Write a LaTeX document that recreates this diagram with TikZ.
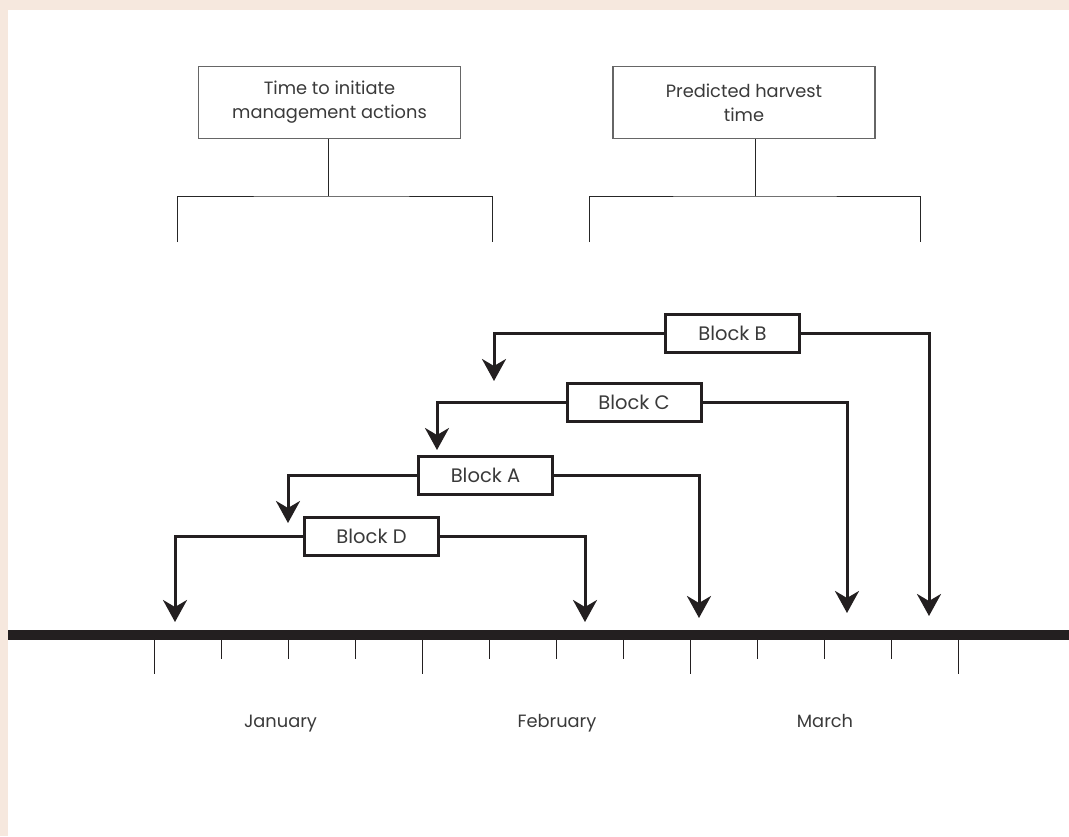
\documentclass[tikz,border=0pt]{standalone}
\usepackage{fontspec}
\setmainfont{Poppins}
\usepackage{tikz}
\usetikzlibrary{arrows.meta}
\usepackage{xcolor}
\definecolor{PageTint}{HTML}{F6E8DE}
\definecolor{InkDark}{HTML}{231F20}
\definecolor{TextGray}{HTML}{3A3A3A}

\begin{document}
\begin{tikzpicture}[x=1pt, y=-1pt,
  topbox/.style={rectangle, draw=black!60, line width=1.3pt,
    minimum width=262pt, minimum height=72pt, inner sep=0pt,
    font=\fontsize{17.8}{24}\selectfont, text=TextGray, align=center},
  blockbox/.style={rectangle, draw=InkDark, line width=3pt, fill=white,
    minimum width=134pt, minimum height=38pt, inner sep=0pt,
    font=\fontsize{19.5}{22}\selectfont, text=TextGray},
  monthlbl/.style={font=\fontsize{17.8}{20}\selectfont, text=TextGray,
    inner sep=0pt, anchor=base},
  brk/.style={line width=1pt, black!85},
  conn/.style={line width=3pt, InkDark, -{Stealth[length=22pt, width=24pt, inset=7pt]}},
  tick/.style={line width=1pt, InkDark},
]
% Page background
\fill[PageTint] (0,0) rectangle (1069,836);
\fill[white] (8,10) rectangle (1069,836);
\useasboundingbox (0,0) rectangle (1069,836);
% Top boxes
\node[topbox] (initbox) at (329.5,102.5) {Time to initiate\\management actions};
\node[topbox] (harvbox) at (744,102.5) {Predicted harvest\\time};
% Brackets
\coordinate (initmid) at (328,196);
\coordinate (initL) at (177,242);
\coordinate (initR) at (492,242);
\coordinate (harvmid) at (755,196);
\coordinate (harvL) at (589,242);
\coordinate (harvR) at (920,242);
\draw[brk] (initmid |- initbox.south) -- (initmid);
\draw[brk] (initL) |- (initmid) -| (initR);
\draw[brk] (harvmid |- harvbox.south) -- (harvmid);
\draw[brk] (harvL) |- (harvmid) -| (harvR);
% Blocks
\node[blockbox] (blkB) at (732.5,333.5) {Block B};
\node[blockbox] (blkC) at (634,402.5) {Block C};
\node[blockbox] (blkA) at (485.5,475.5) {Block A};
\node[blockbox] (blkD) at (371.5,536.5) {Block D};
% Arrow ends
\coordinate (tipBl) at (494,381);
\coordinate (tipBr) at (929,616);
\coordinate (tipCl) at (437,450);
\coordinate (tipCr) at (847,613);
\coordinate (tipAl) at (288,523);
\coordinate (tipAr) at (699,618);
\coordinate (tipDl) at (175,622);
\coordinate (tipDr) at (585,622);
\draw[conn] (blkB.west) -| (tipBl);
\draw[conn] (blkB.east) -| (tipBr);
\draw[conn] (blkC.west) -| (tipCl);
\draw[conn] (blkC.east) -| (tipCr);
\draw[conn] (blkA.west) -| (tipAl);
\draw[conn] (blkA.east) -| (tipAr);
\draw[conn] (blkD.west) -| (tipDl);
\draw[conn] (blkD.east) -| (tipDr);
% Time line
\draw[line width=10pt, InkDark] (8,635) -- (1069,635);
\foreach \x in {154,422,690,958}
  \draw[tick] (\x,640) -- (\x,674);
\foreach \x in {221,288,355,489,556,623,757,824,891}
  \draw[tick] (\x,640) -- (\x,659);
% Months
\node[monthlbl] (jan) at (280.5,727) {January};
\node[monthlbl] (feb) at (557,727) {February};
\node[monthlbl] (mar) at (825,727) {March};
\end{tikzpicture}
\end{document}
